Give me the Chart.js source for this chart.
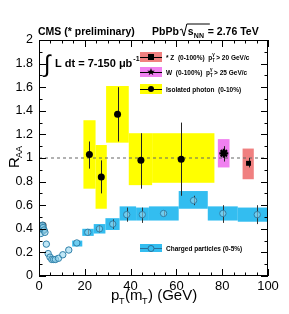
<!DOCTYPE html>
<html>
<head>
<meta charset="utf-8">
<script src="https://cdn.jsdelivr.net/npm/chart.js@4"></script>
<style>
  html, body { margin: 0; padding: 0; background: #fff; }
  canvas { display: block; }
</style>
</head>
<body>
<canvas id="raa" width="289" height="314"></canvas>
<script>
// Isolated photon (0-10%)
const photonPt = [22, 27.2, 34.3, 44.5, 62.1];
const photonRaa = [1.03, 0.84, 1.37, 0.98, 0.99];
const photonErrLo = [0.91, 0.70, 1.14, 0.74, 0.68];
const photonErrHi = [1.14, 0.98, 1.60, 1.21, 1.30];
const photonSysX0 = [19.4, 24.7, 29.3, 39.2, 49.4];
const photonSysX1 = [24.7, 29.6, 39.2, 49.4, 76.6];
const photonSysLo = [0.74, 0.57, 1.13, 0.77, 0.79];
const photonSysHi = [1.32, 1.11, 1.61, 1.21, 1.21];

// W (0-100%)
const wPt = [80.7];
const wRaa = [1.04];
const wErrLo = [0.97];
const wErrHi = [1.10];
const wSysX0 = [78.1];
const wSysX1 = [83.2];
const wSysLo = [0.92];
const wSysHi = [1.16];

// Z (0-100%)
const zPt = [91.5];
const zRaa = [0.955];
const zErrLo = [0.92];
const zErrHi = [1.0];
const zSysX0 = [88.9];
const zSysX1 = [93.8];
const zSysLo = [0.82];
const zSysHi = [1.08];

// Charged particles (0-5%)
const chPt = [0.8, 1.0, 1.2, 1.5, 1.8, 2.2, 2.6, 3.2, 4.0, 4.8, 5.6, 6.4, 7.2, 8.5, 10.4, 13, 16.5, 21.3, 26.4, 32.2, 38.3, 45.1, 54.4, 67.5, 80.3, 95.3];
const chRaa = [0.36, 0.40, 0.42, 0.43, 0.41, 0.39, 0.37, 0.27, 0.19, 0.16, 0.14, 0.14, 0.14, 0.15, 0.18, 0.22, 0.28, 0.37, 0.40, 0.44, 0.52, 0.52, 0.53, 0.64, 0.53, 0.52];
const chErrLo = [null, null, null, null, null, null, null, null, null, null, null, null, null, null, null, null, null, 0.35, 0.37, 0.40, 0.46, 0.45, 0.51, 0.60, 0.45, 0.44];
const chErrHi = [null, null, null, null, null, null, null, null, null, null, null, null, null, null, null, null, null, 0.39, 0.43, 0.48, 0.58, 0.58, 0.55, 0.68, 0.60, 0.60];
const chSysX0 = [14.5, 18.9, 23.9, 29, 35.2, 42.4, 48, 61, 73.7, 86.8];
const chSysX1 = [18.9, 23.9, 29, 35.2, 42.4, 48, 61, 73.7, 86.8, 100];
const chSysLo = [0.25, 0.34, 0.36, 0.39, 0.47, 0.47, 0.47, 0.57, 0.47, 0.46];
const chSysHi = [0.30, 0.40, 0.44, 0.49, 0.59, 0.58, 0.59, 0.72, 0.59, 0.58];

// dark open points overlapping at low pT
const lowPt = [1.4, 1.7, 2.0];
const lowRaa = [0.41, 0.43, 0.39];

const xTicks = [0, 20, 40, 60, 80, 100];
const yTicks = [0, 0.2, 0.4, 0.6, 0.8, 1, 1.2, 1.4, 1.6, 1.8, 2];

const FONT = '"Liberation Sans", Arial, Helvetica, sans-serif';
const YELLOW = '#ffff00';
const RED = '#f08080';
const MAGENTA = '#f080f0';
const CYAN = '#33bdf0';

const pts = (xs, ys) => xs.map((x, i) => ({ x: x, y: ys[i] }));

// boites de systematique + barres d'erreur
const sysPlugin = {
  id: 'sys',
  beforeDatasetsDraw(chart) {
    const { ctx, scales: { x, y } } = chart;
    const boxes = (x0, x1, lo, hi, col) => {
      ctx.fillStyle = col;
      x0.forEach((v, i) => {
        const l = x.getPixelForValue(v), r = x.getPixelForValue(x1[i]);
        const t = y.getPixelForValue(hi[i]), b = y.getPixelForValue(lo[i]);
        ctx.fillRect(l, t, r - l, b - t);
      });
    };
    ctx.save();
    boxes(chSysX0, chSysX1, chSysLo, chSysHi, CYAN);
    boxes(photonSysX0, photonSysX1, photonSysLo, photonSysHi, YELLOW);
    boxes(wSysX0, wSysX1, wSysLo, wSysHi, MAGENTA);
    boxes(zSysX0, zSysX1, zSysLo, zSysHi, RED);

    // ligne R_AA = 1
    ctx.strokeStyle = '#666';
    ctx.lineWidth = 1;
    ctx.setLineDash([3, 3]);
    ctx.beginPath();
    ctx.moveTo(x.getPixelForValue(0), y.getPixelForValue(1));
    ctx.lineTo(x.getPixelForValue(100), y.getPixelForValue(1));
    ctx.stroke();
    ctx.setLineDash([]);

    const errs = (xs, lo, hi, col) => {
      ctx.strokeStyle = col;
      ctx.lineWidth = 1;
      xs.forEach((v, i) => {
        if (lo[i] == null) return;
        const px = Math.round(x.getPixelForValue(v)) + 0.5;
        ctx.beginPath();
        ctx.moveTo(px, y.getPixelForValue(lo[i]));
        ctx.lineTo(px, y.getPixelForValue(hi[i]));
        ctx.stroke();
      });
    };
    errs(chPt, chErrLo, chErrHi, '#333');
    errs(photonPt, photonErrLo, photonErrHi, '#222');
    errs(wPt, wErrLo, wErrHi, '#222');
    errs(zPt, zErrLo, zErrHi, '#222');
    ctx.restore();
  }
};

// cadre, ticks ROOT, textes, legendes
const decorPlugin = {
  id: 'decor',
  afterDraw(chart) {
    const { ctx, chartArea: a, scales: { x, y } } = chart;
    ctx.save();
    ctx.strokeStyle = '#000';
    ctx.lineWidth = 1;
    ctx.strokeRect(a.left + 0.5, a.top + 0.5, a.right - a.left - 1, a.bottom - a.top - 1);
    ctx.beginPath();
    for (let v = 0; v <= 100; v += 5) {
      const px = Math.round(x.getPixelForValue(v)) + 0.5;
      const len = v % 20 === 0 ? 7 : 3.5;
      ctx.moveTo(px, a.bottom); ctx.lineTo(px, a.bottom - len);
      ctx.moveTo(px, a.top); ctx.lineTo(px, a.top + len);
    }
    for (let k = 0; k <= 20; k++) {
      const py = Math.round(y.getPixelForValue(k / 10)) + 0.5;
      const len = k % 2 === 0 ? 7 : 3.5;
      ctx.moveTo(a.left, py); ctx.lineTo(a.left + len, py);
      ctx.moveTo(a.right, py); ctx.lineTo(a.right - len, py);
    }
    ctx.stroke();

    ctx.fillStyle = '#000';
    ctx.textBaseline = 'alphabetic';
    ctx.textAlign = 'left';

    // en-tete
    ctx.font = 'bold 10.5px ' + FONT;
    ctx.fillText('CMS (* preliminary)', 38, 35);
    ctx.fillText('PbPb', 152, 35);
    let cx = 152 + ctx.measureText('PbPb').width + 1;
    ctx.beginPath();
    ctx.lineWidth = 1;
    ctx.moveTo(cx, 30); ctx.lineTo(cx + 2, 29); ctx.lineTo(cx + 4, 36); ctx.lineTo(cx + 7, 24); ctx.lineTo(cx + 30, 24);
    ctx.stroke();
    ctx.fillText('s', cx + 8, 35);
    ctx.font = 'bold 7px ' + FONT;
    ctx.fillText('NN', cx + 14, 38);
    ctx.font = 'bold 10.5px ' + FONT;
    ctx.fillText(' = 2.76 TeV', cx + 25, 35);

    // luminosite
    ctx.font = '24px ' + FONT;
    ctx.fillText('\u222B', 44, 72);
    ctx.font = 'bold 11px ' + FONT;
    ctx.fillText('L dt = 7-150 \u03BCb', 55, 67);
    const lw = ctx.measureText('L dt = 7-150 \u03BCb').width;
    ctx.font = 'bold 7px ' + FONT;
    ctx.fillText('-1', 55 + lw + 1, 61);

    // legende du haut
    const leg = (cy, col, style, txt) => {
      ctx.fillStyle = col;
      ctx.fillRect(140, cy - 5, 22, 10);
      ctx.strokeStyle = '#000';
      ctx.beginPath(); ctx.moveTo(140, cy + 0.5); ctx.lineTo(162, cy + 0.5); ctx.stroke();
      ctx.fillStyle = '#000';
      if (style === 'rect') ctx.fillRect(148, cy - 3, 6, 6);
      else if (style === 'circle') { ctx.beginPath(); ctx.arc(151, cy, 3, 0, 2 * Math.PI); ctx.fill(); }
      else {
        ctx.beginPath();
        for (let k = 0; k < 10; k++) {
          const r = k % 2 ? 1.6 : 4, an = -Math.PI / 2 + k * Math.PI / 5;
          ctx.lineTo(151 + r * Math.cos(an), cy + r * Math.sin(an));
        }
        ctx.closePath(); ctx.fill();
      }
      ctx.font = 'bold 6.5px ' + FONT;
      ctx.fillText(txt[0], 166, cy + 2.5);
      if (txt.length > 1) {
        let tx = 166 + ctx.measureText(txt[0]).width;
        ctx.fillText('p', tx, cy + 2.5);
        ctx.font = 'bold 4.5px ' + FONT;
        ctx.fillText('T', tx + 4, cy + 5);
        ctx.fillText('\u03B3', tx + 4, cy - 1);
        ctx.font = 'bold 6.5px ' + FONT;
        ctx.fillText(txt[1], tx + 8, cy + 2.5);
      }
    };
    leg(57, RED, 'rect', ['* Z  (0-100%)  ', '> 20 GeV/c']);
    leg(72, MAGENTA, 'star', ['W  (0-100%)  ', '> 25 GeV/c']);
    leg(89, YELLOW, 'circle', ['Isolated photon  (0-10%)']);

    // legende du bas
    ctx.fillStyle = CYAN;
    ctx.fillRect(140, 244, 22, 8);
    ctx.strokeStyle = '#2a6f99';
    ctx.beginPath(); ctx.moveTo(140, 248.5); ctx.lineTo(162, 248.5); ctx.stroke();
    ctx.beginPath(); ctx.arc(151, 248.5, 3, 0, 2 * Math.PI);
    ctx.fillStyle = CYAN; ctx.fill(); ctx.stroke();
    ctx.fillStyle = '#000';
    ctx.font = 'bold 6.5px ' + FONT;
    ctx.fillText('Charged particles (0-5%)', 166, 251);

    // titres des axes
    ctx.font = '15px ' + FONT;
    ctx.fillText('p', 111, 300);
    ctx.font = '9px ' + FONT;
    ctx.fillText('T', 119, 304);
    ctx.font = '15px ' + FONT;
    ctx.fillText('(m', 125, 300);
    ctx.font = '9px ' + FONT;
    ctx.fillText('T', 142, 304);
    ctx.font = '15px ' + FONT;
    ctx.fillText(') (GeV)', 148, 300);

    ctx.translate(19, 168);
    ctx.rotate(-Math.PI / 2);
    ctx.font = '15px ' + FONT;
    ctx.fillText('R', 0, 0);
    ctx.font = '9px ' + FONT;
    ctx.fillText('AA', 10, 3);
    ctx.restore();
  }
};

new Chart(document.getElementById('raa').getContext('2d'), {
  type: 'scatter',
  data: {
    datasets: [
      {
        data: pts(chPt, chRaa),
        pointStyle: 'circle', pointRadius: 3.2, borderWidth: 1,
        borderColor: '#2f7fa8', backgroundColor: 'rgba(150,215,240,0.6)'
      },
      {
        data: pts(lowPt, lowRaa),
        pointStyle: 'circle', pointRadius: 3, borderWidth: 1.2,
        borderColor: '#222', backgroundColor: 'rgba(60,90,110,0.5)'
      },
      {
        data: pts(photonPt, photonRaa),
        pointStyle: 'circle', pointRadius: 3.5, borderWidth: 0,
        backgroundColor: '#000'
      },
      {
        data: pts(wPt, wRaa),
        pointStyle: 'star', pointRadius: 4.5, borderWidth: 2.2,
        borderColor: '#000', backgroundColor: '#000'
      },
      {
        data: pts(zPt, zRaa),
        pointStyle: 'rect', pointRadius: 3.5, borderWidth: 0,
        backgroundColor: '#000'
      }
    ]
  },
  options: {
    responsive: false,
    animation: false,
    devicePixelRatio: 1,
    layout: { padding: { left: 0, right: 21, top: 40, bottom: 0 } },
    plugins: { legend: { display: false }, tooltip: { enabled: false } },
    scales: {
      x: {
        type: 'linear', min: 0, max: 100,
        afterFit: s => { s.height = 38; },
        afterBuildTicks: s => { s.ticks = xTicks.map(v => ({ value: v })); },
        grid: { display: false, drawTicks: false },
        border: { display: false },
        ticks: { color: '#000', font: { family: FONT, size: 13 }, padding: 3, maxRotation: 0,
          callback: v => String(v) }
      },
      y: {
        type: 'linear', min: 0, max: 2,
        afterFit: s => { s.width = 39; },
        afterBuildTicks: s => { s.ticks = yTicks.map(v => ({ value: v })); },
        grid: { display: false, drawTicks: false },
        border: { display: false },
        ticks: { color: '#000', font: { family: FONT, size: 12.5 }, padding: 6,
          callback: v => String(+v.toFixed(1)) }
      }
    }
  },
  plugins: [sysPlugin, decorPlugin]
});
</script>
</body>
</html>
